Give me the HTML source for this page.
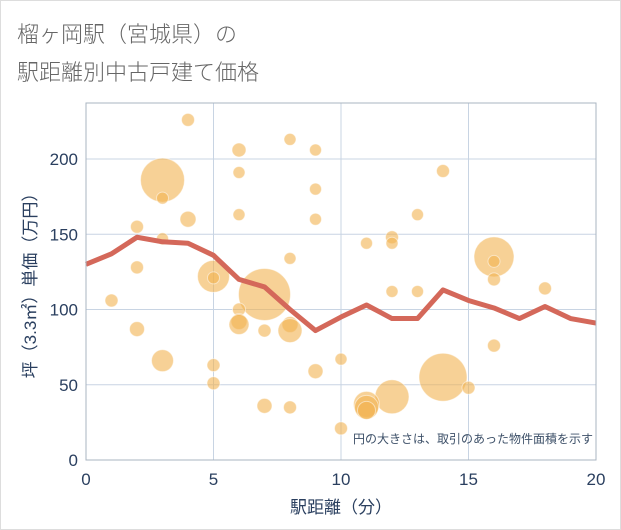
<!DOCTYPE html>
<html><head><meta charset="utf-8"><style>
body{margin:0;background:#fff;font-family:"Liberation Sans","Noto Sans CJK JP",sans-serif}
#wrap{position:relative;width:619px;height:528px;border:1px solid #ddd;background:#fff}
</style></head><body>
<div id="wrap">
<svg id="chart" width="621" height="530" style="position:absolute;left:-1px;top:-1px">
<text x="17" y="42" font-size="22" fill="#666" font-family="Liberation Sans,Noto Sans CJK JP,sans-serif" font-weight="300">榴ヶ岡駅（宮城県）の</text>
<text x="17" y="80" font-size="22" fill="#666" font-family="Liberation Sans,Noto Sans CJK JP,sans-serif" font-weight="300">駅距離別中古戸建て価格</text>
<g id="grid"></g><g id="bubbles"></g><g id="line"></g><g id="axes"></g>
</svg>
</div>
<script>
const xTicks=[0,5,10,15,20];
const yTicks=[0,50,100,150,200];
const lineX=[0,1,2,3,4,5,6,7,8,9,10,11,12,13,14,15,16,17,18,19,20];
const lineY=[130,137,148,145,144,136,120,115,100,86,95,103,94,94,113,106,101,94,102,94,91];
const bubbleX=[4,3,3,6,8,9,6,9,14,4,6,9,13,2,11,12,12,3,8,16,16,5,5,7,2,16,12,13,18,1,6,6,6,8,8,2,7,3,5,9,10,16,5,14,15,12,11,11,11,7,8,10];
const bubbleY=[226,186,174,206,213,206,191,180,192,160,163,160,163,155,144,148,144,147,134,135,132,122,121,110,128,120,112,112,114,106,100,92,90,90,86,87,86,66,63,59,67,76,51,55,48,42,37,35,33,36,35,21];
const bubbleR=[6.5,22,6,7,6,6,6,6,6.5,8,6,6,6,6.5,6,6.5,6,6,6,20,6,16,6,26,6.5,6.5,6,6,6.5,6.5,6.5,8,10,8,12,7.5,6.5,11,6.5,7.5,6,6.5,6.5,24,6.5,17,13,12,9,7.5,6.5,6.5];
const L=86,R=596,T=103,B=460;
const sx=v=>L+(v-0)/(20-0)*(R-L);
const sy=v=>B-v/200*(B-159);
const NS='http://www.w3.org/2000/svg';
function mk(tag,attrs,parent){const e=document.createElementNS(NS,tag);for(const k in attrs)e.setAttribute(k,attrs[k]);document.getElementById(parent).appendChild(e);return e;}
const frame=mk('rect',{x:L,y:T,width:R-L,height:B-T,fill:'none',stroke:'#aab4c0','stroke-width':1},'axes');


xTicks.forEach(t=>{
 const g=mk('line',{x1:sx(t),x2:sx(t),y1:T,y2:B,stroke:'#c8d4e3','stroke-width':1},'grid');
 
 
 const tx=mk('text',{x:sx(t),y:B+25,'text-anchor':'middle','font-size':17,fill:'#2a3f5f'},'axes');
 tx.textContent=t;
 
 
});
yTicks.forEach(t=>{
 const g=mk('line',{x1:L,x2:R,y1:sy(t),y2:sy(t),stroke:'#c8d4e3','stroke-width':1},'grid');
 
 
 const tx=mk('text',{x:L-8,y:sy(t)+6,'text-anchor':'end','font-size':17,fill:'#2a3f5f'},'axes');
 tx.textContent=t;
 
 
});
bubbleX.forEach((x,i)=>{
 const c=mk('circle',{cx:sx(x),cy:sy(bubbleY[i]),r:bubbleR[i],fill:'#f2b350','fill-opacity':0.6,stroke:'#fff','stroke-opacity':0.5,'stroke-width':1},'bubbles');
 
 
});
const p=mk('polyline',{points:lineX.map((x,i)=>sx(x)+','+sy(lineY[i])).join(' '),fill:'none',stroke:'#d4685a','stroke-width':5,'stroke-linejoin':'round'},'line');


const n=mk('text',{x:593,y:443,'text-anchor':'end','font-size':12,fill:'#3d5068'},'axes');
n.textContent='円の大きさは、取引のあった物件面積を示す';


const xt=mk('text',{x:(L+R)/2,y:513,'text-anchor':'middle','font-size':17,fill:'#2a3f5f'},'axes');
xt.textContent='駅距離（分）';


const yt=mk('text',{x:0,y:0,'text-anchor':'middle','font-size':17,fill:'#2a3f5f',transform:'translate(36,'+((T+B)/2)+') rotate(-90)'},'axes');
yt.textContent='坪（3.3㎡）単価（万円）';


</script>
</body></html>
